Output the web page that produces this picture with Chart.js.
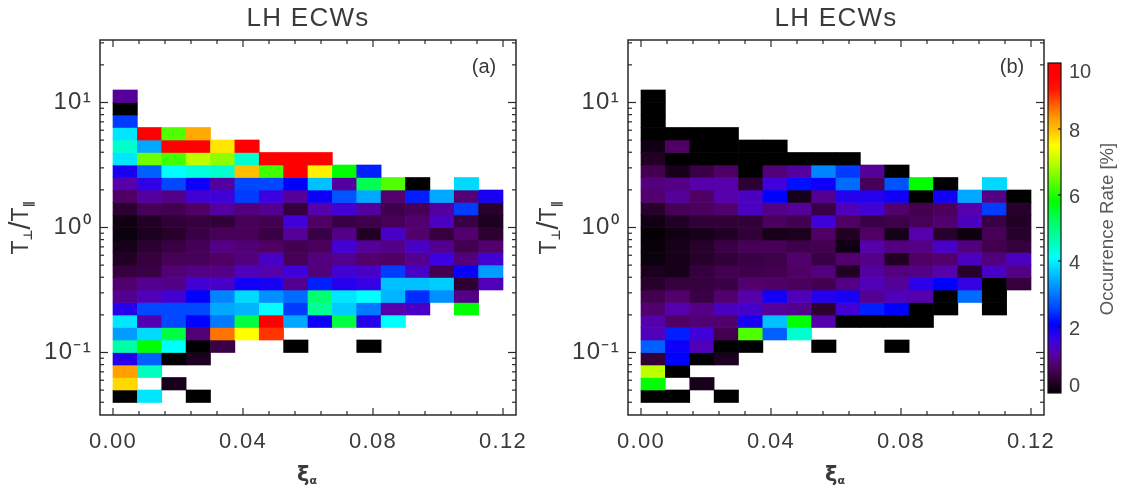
<!DOCTYPE html>
<html>
<head>
<meta charset="utf-8">
<title>LH ECWs</title>
<script src="https://cdn.jsdelivr.net/npm/chart.js@4"></script>
<style>
    html, body { margin: 0; padding: 0; background: #fff; }
    canvas { position: absolute; top: 0; }
</style>
</head>
<body>
<canvas id="panelA" width="540" height="491" style="left:0"></canvas>
<canvas id="panelB" width="540" height="491" style="left:528px"></canvas>
<canvas id="colorbar" width="85" height="491" style="left:1040px"></canvas>
<script>
// bin centres of xi_alpha
const xCenters = [0.00375, 0.01125, 0.01875, 0.02625, 0.03375, 0.04125, 0.04875, 0.05625,
    0.06375, 0.07125, 0.07875, 0.08625, 0.09375, 0.10125, 0.10875, 0.11625];

// bin edges of T_perp/T_par, top to bottom
const yEdges = [12.59, 10, 7.943, 6.310, 5.012, 3.981, 3.162, 2.512, 1.995, 1.585, 1.259, 1,
    0.7943, 0.6310, 0.5012, 0.3981, 0.3162, 0.2512, 0.1995, 0.1585, 0.1259, 0.1,
    0.07943, 0.06310, 0.05012, 0.03981];

const _ = null;

// occurrence rate, one row per y bin (missing trailing cells are empty)
const ratesA = [
    [1.1],
    [0],
    [2.5],
    [3.9, 10, 6.3, 8.2],
    [4.4, 3.4, 10, 10, 7.7, 10],
    [3.9, 6.5, 6.2, 7, 6.7, 4.4, 10, 10, 10],
    [1.9, 2.8, 4.1, 4.3, 4.4, 8, 6.2, 10, 7.6, 5.8, 2.3],
    [1.2, 1.7, 2.6, 2, 1.15, 2.6, 2.6, 2.1, 3.6, 1.15, 5.3, 6.3, 0, _, 3.8],
    [0.8, 1.15, 1, 1.5, 1.55, 2.5, 1.6, 1.1, 2, 2.7, 3.4, 0.85, 2.3, 3.4, 0.9, 1.9],
    [0.4, 0.7, 0.65, 0.8, 1.15, 0.95, 1.05, 0.5, 1.2, 1.5, 1.15, 0.6, 0.7, 1.15, 2.5, 0.35],
    [0.15, 0.3, 0.45, 0.5, 0.45, 0.7, 0.65, 1.55, 0.8, 0.55, 0.6, 0.7, 0.85, 1.35, 0.55, 0.25],
    [0.1, 0.25, 0.35, 0.55, 0.7, 0.7, 0.55, 1.1, 0.55, 1, 0.3, 1.4, 0.85, 0.5, 0.85, 0.4],
    [0.2, 0.4, 0.55, 0.7, 1, 0.9, 0.8, 0.65, 0.75, 1.5, 1.1, 1, 1.4, 1.05, 0.65, 0.85],
    [0.3, 0.5, 0.7, 0.7, 0.8, 0.95, 1.4, 0.7, 0.95, 1.05, 0.85, 0.8, 1.05, 1.6, 0.95, 1.5],
    [0.5, 0.55, 0.9, 1, 1, 1.3, 1.2, 1.55, 0.95, 1.5, 1.4, 2.5, 1.4, 0.65, 2.05, 3.3],
    [0.85, 1.05, 1, 1.5, 1.4, 1.95, 1.9, 1.05, 2.3, 1.8, 1.65, 3.6, 3.6, 3.7, 0.4, 1.3],
    [1.05, 1.3, 1.5, 2.1, 3.1, 3.8, 3.2, 2.9, 5.1, 3.9, 4.1, 3.5, 2.4, 3.2, 1],
    [1.8, 2.6, 2.6, 2.6, 3.4, 3.5, 4.1, 2.5, 4.8, 3.7, 3, 1.2, 1.4, _, 5.8],
    [3.9, 1.25, 2.6, 2.1, 3, 5.4, 10, 3.4, 2, 5.4, 1.8, 4.1],
    [3.3, 3.8, 5.4, 0.9, 8.6, 7.5, 9],
    [4.7, 5.8, 4.1, 0, 0.55, _, _, 0, _, _, 0],
    [1.8, 2.8, 0, 0.25],
    [8.3, 4.5],
    [7.8, _, 0.2],
    [0, 3.9, _, 0]
];

const ratesB = [
    [0],
    [0],
    [0],
    [0, 0, 0, 0],
    [0.15, 0.8, 0, 0, 0, 0],
    [0.3, 0, 0, 0, 0, 0, 0, 0, 0],
    [0.65, 0.2, 0.55, 0.8, 0, 0.9, 1.15, 3.1, 2.5, 1.1, 0],
    [0.95, 1, 1.2, 1.2, 0.4, 1.55, 2.2, 2, 2.9, 0.7, 2.7, 5.8, 0, _, 3.8],
    [0.85, 1.1, 0.8, 1.2, 1.35, 2.1, 0.2, 1.05, 1.8, 1.8, 1.95, 0, 1.95, 3.4, 1, 0],
    [0.35, 0.7, 0.75, 0.85, 1.35, 1, 1.1, 0.55, 1.3, 1.5, 0.85, 0.65, 0.75, 1.2, 2.5, 0.35],
    [0.15, 0.3, 0.45, 0.45, 0.45, 0.75, 0.65, 1.55, 0.8, 0.55, 0.6, 0.7, 0.85, 1.35, 0.55, 0.3],
    [0.05, 0.15, 0.2, 0.3, 0.45, 0.2, 0.25, 0.8, 0.3, 0.8, 0.2, 1.2, 0.35, 0.12, 0.7, 0.35],
    [0.08, 0.2, 0.35, 0.55, 0.7, 0.7, 0.6, 0.65, 0.15, 1.2, 0.95, 1, 1.4, 0.95, 0.65, 0.5],
    [0.1, 0.2, 0.35, 0.45, 0.55, 0.6, 0.85, 0.55, 0.85, 1, 0.3, 0.8, 0.85, 1.35, 0.95, 1.35],
    [0.25, 0.2, 0.5, 0.65, 0.6, 0.65, 0.8, 0.95, 0.3, 1.15, 0.95, 1, 1.2, 0.35, 1.4, 1],
    [0.35, 0.5, 0.5, 0.55, 0.85, 0.8, 0.75, 0.65, 1, 1.3, 1.1, 1.75, 2.1, 1.65, 0, 0.5],
    [0.65, 0.85, 0.55, 0.85, 1.2, 1.95, 1.3, 1.8, 1.9, 1.05, 1.3, 1.2, 0, 2.9, 0],
    [0.85, 1.2, 1, 1.35, 1.45, 1.1, 1.05, 0.4, 1.5, 2.3, 2.1, 0, 0, _, 0],
    [1.2, 0.8, 0.9, 0.85, 1.9, 3.6, 5.8, 1.2, 0, 0, 0, 0],
    [1.3, 2.3, 1.55, 0.65, 6.3, 2.8, 4.4],
    [2.8, 2, 1.3, 0, 0, _, _, 0, _, _, 0],
    [0.45, 2.1, 0, 0.25],
    [7, 0],
    [5.8, _, 0.2],
    [0, 0, _, 0]
];

// tick positions
const xMajorTicks = [0, 0.04, 0.08, 0.12];
const xMinorTicks = [0.008, 0.016, 0.024, 0.032, 0.048, 0.056, 0.064, 0.072, 0.088, 0.096, 0.104, 0.112];
const yMajorTicks = [0.1, 1, 10];
const yMinorTicks = [0.04, 0.05, 0.06, 0.07, 0.08, 0.09, 0.2, 0.3, 0.4, 0.5, 0.6, 0.7, 0.8, 0.9,
    2, 3, 4, 5, 6, 7, 8, 9, 20, 30];
const barTickMarks = [2, 4, 6, 8];
// labels of the colour bar sit a bit off their tick marks in the original
const barLabelSpots = [0.2, 1.92, 3.93, 5.92, 7.91, 9.7];

// colour table
const tableValues = [0, 0.4, 0.8, 1.2, 1.6, 2.1, 2.5, 3, 3.5, 4.1, 4.5, 5.2, 5.8, 6.3, 7, 7.5, 8, 8.3, 8.7, 9.2, 9.6, 10];
const tableColors = [[0,0,0], [45,0,50], [80,0,100], [85,0,170], [60,0,225], [0,0,255], [0,60,255],
    [0,120,255], [0,180,255], [0,255,255], [0,255,190], [0,255,100], [0,255,0], [80,255,0], [190,255,0],
    [255,255,0], [255,190,0], [255,160,0], [255,100,0], [255,20,0], [255,0,0], [255,0,0]];

const inkColor = "#2a2a2a";
const textColor = "#3a3a3a";
const labelFont = { family: "'Liberation Sans', Arial, sans-serif", size: 22 };

// value --> css colour
function rateColor(v) {
    for (let i = 1; i < tableValues.length; i++) {
        if (v <= tableValues[i]) {
            const t = (v - tableValues[i - 1]) / (tableValues[i] - tableValues[i - 1]);
            const a = tableColors[i - 1], b = tableColors[i];
            const c = a.map((p, k) => Math.round(p + (b[k] - p) * t));
            return `rgb(${c[0]},${c[1]},${c[2]})`;
        }
    }
    return "rgb(255,0,0)";
}

// one dataset per y bin, floating bars between the bin edges
function buildDatasets(rates) {
    return rates.map((row, r) => {
        const data = [], colors = [];
        row.forEach((v, c) => {
            if (v == null) return;
            data.push({ x: xCenters[c], y: [yEdges[r + 1], yEdges[r]] });
            colors.push(rateColor(v));
        });
        return { data: data, backgroundColor: colors, borderWidth: 0, grouped: false,
            barPercentage: 1, categoryPercentage: 1 };
    });
}

// text made of pieces with different fonts, centred on x,y
function drawPieces(ctx, x, y, rotation, pieces, color) {
    ctx.save();
    ctx.letterSpacing = "0px";
    ctx.translate(x, y);
    ctx.rotate(rotation);
    ctx.fillStyle = color || textColor;
    ctx.textBaseline = "alphabetic";
    ctx.textAlign = "left";
    let total = 0;
    for (const p of pieces) {
        ctx.font = p.font;
        total += ctx.measureText(p.text).width;
    }
    let cx = -total / 2;
    for (const p of pieces) {
        ctx.font = p.font;
        ctx.fillText(p.text, cx, p.dy);
        cx += ctx.measureText(p.text).width;
    }
    ctx.restore();
}

// IDL look: closed box, ticks pointing inside on all four sides, axis titles, panel letter
const boxPlugin = {
    id: "boxPlugin",
    beforeDraw(chart) {
        chart.ctx.letterSpacing = "1.3px";
    },
    afterDraw(chart, args, opts) {
        const ctx = chart.ctx;
        const a = chart.chartArea;
        const xs = chart.scales.x, ys = chart.scales.y;

        ctx.save();
        ctx.strokeStyle = inkColor;
        ctx.lineWidth = 1.5;
        ctx.strokeRect(a.left, a.top, a.right - a.left, a.bottom - a.top);

        ctx.lineWidth = 1.2;
        const mark = (x1, y1, x2, y2) => {
            ctx.beginPath();
            ctx.moveTo(x1, y1);
            ctx.lineTo(x2, y2);
            ctx.stroke();
        };
        for (const [ticks, len] of [[xMajorTicks, 7], [xMinorTicks, 4]]) {
            for (const t of ticks) {
                const px = xs.getPixelForValue(t);
                mark(px, a.bottom, px, a.bottom - len);
                mark(px, a.top, px, a.top + len);
            }
        }
        for (const [ticks, len] of [[yMajorTicks, 8], [yMinorTicks, 4]]) {
            for (const t of ticks) {
                const py = ys.getPixelForValue(t);
                mark(a.left, py, a.left + len, py);
                mark(a.right, py, a.right - len, py);
            }
        }
        ctx.restore();

        const big = "23px 'Liberation Sans', Arial, sans-serif";
        const small = "bold 12px 'DejaVu Sans', sans-serif";
        drawPieces(ctx, 28, 228, -Math.PI / 2, [
            { text: "T", font: big, dy: 0 },
            { text: "⊥", font: small, dy: 4 },
            { text: "/", font: "29px 'Liberation Sans', Arial, sans-serif", dy: 2 },
            { text: "T", font: big, dy: 0 },
            { text: "∥", font: small, dy: 4 }
        ]);
        drawPieces(ctx, 307, 481, 0, [
            { text: "ξ", font: "bold 21px 'DejaVu Sans', sans-serif", dy: 0 },
            { text: "α", font: "bold 11px 'DejaVu Sans', sans-serif", dy: 3 }
        ]);
        drawPieces(ctx, 484, 73, 0, [
            { text: opts.letter, font: "20px 'Liberation Sans', Arial, sans-serif", dy: 0 }
        ]);
    }
};

function makePanel(id, rates, letter) {
    new Chart(document.getElementById(id), {
        type: "bar",
        data: { datasets: buildDatasets(rates) },
        plugins: [boxPlugin],
        options: {
            responsive: false,
            animation: false,
            layout: { padding: { right: 24 } },
            plugins: {
                legend: { display: false },
                tooltip: { enabled: false },
                title: {
                    display: true,
                    text: "LH ECWs",
                    fullSize: false,
                    color: textColor,
                    font: { family: labelFont.family, size: 26, weight: "normal" },
                    padding: { top: 3, bottom: 5.8 }
                },
                boxPlugin: { letter: letter }
            },
            scales: {
                x: {
                    type: "linear",
                    offset: false,
                    min: -0.004,
                    max: 0.124,
                    grid: { display: false },
                    border: { display: false },
                    afterBuildTicks: (s) => { s.ticks = xMajorTicks.map((v) => ({ value: v })); },
                    afterFit: (s) => { s.height = 76; },
                    ticks: {
                        color: textColor,
                        font: labelFont,
                        padding: 6,
                        maxRotation: 0,
                        autoSkip: false,
                        callback: (v) => v.toFixed(2)
                    }
                },
                y: {
                    type: "logarithmic",
                    min: 0.03162,
                    max: 31.62,
                    grid: { display: false },
                    border: { display: false },
                    afterBuildTicks: (s) => { s.ticks = yMajorTicks.map((v) => ({ value: v })); },
                    afterFit: (s) => { s.width = 100; },
                    ticks: {
                        color: textColor,
                        font: { family: labelFont.family, size: 24 },
                        padding: 0,
                        autoSkip: false,
                        callback: (v) => (v === 10 ? "10¹" : v === 1 ? "10⁰" : "10⁻¹")
                    }
                }
            }
        }
    });
}

makePanel("panelA", ratesA, "(a)");
makePanel("panelB", ratesB, "(b)");

// colour bar: one floating bar filled with the colour table
function barGradient(context) {
    const area = context.chart.chartArea;
    if (!area) return "#000";
    const g = context.chart.ctx.createLinearGradient(0, area.bottom, 0, area.top);
    tableValues.forEach((v) => g.addColorStop(v / 10, rateColor(v)));
    return g;
}

const barPlugin = {
    id: "barPlugin",
    afterDraw(chart) {
        const ctx = chart.ctx;
        const a = chart.chartArea;
        ctx.save();
        ctx.strokeStyle = "#111";
        ctx.lineWidth = 1.2;
        ctx.strokeRect(a.left, a.top, a.right - a.left, a.bottom - a.top);
        for (const t of barTickMarks) {
            const py = chart.scales.y.getPixelForValue(t);
            ctx.beginPath();
            ctx.moveTo(a.right - 3, py);
            ctx.lineTo(a.right, py);
            ctx.stroke();
        }
        ctx.restore();
        drawPieces(ctx, 73, 229, -Math.PI / 2, [
            { text: "Occurrence Rate [%]", font: "18.6px 'Liberation Sans', Arial, sans-serif", dy: 0 }
        ], "#5a5a5a");
    }
};

new Chart(document.getElementById("colorbar"), {
    type: "bar",
    data: {
        labels: [""],
        datasets: [{ data: [[0, 10]], backgroundColor: barGradient, borderWidth: 0,
            barPercentage: 1, categoryPercentage: 1 }]
    },
    plugins: [barPlugin],
    options: {
        responsive: false,
        animation: false,
        layout: { padding: { top: 63, bottom: 98, left: 8, right: 0 } },
        plugins: { legend: { display: false }, tooltip: { enabled: false } },
        scales: {
            x: { display: false },
            y: {
                position: "right",
                min: 0,
                max: 10,
                grid: { display: false },
                border: { display: false },
                afterBuildTicks: (s) => { s.ticks = barLabelSpots.map((v) => ({ value: v })); },
                afterFit: (s) => { s.width = 64; },
                ticks: {
                    color: "#444",
                    font: { family: labelFont.family, size: 20 },
                    padding: 0,
                    autoSkip: false,
                    callback: (v) => String(Math.round(v))
                }
            }
        }
    }
});
</script>
</body>
</html>
